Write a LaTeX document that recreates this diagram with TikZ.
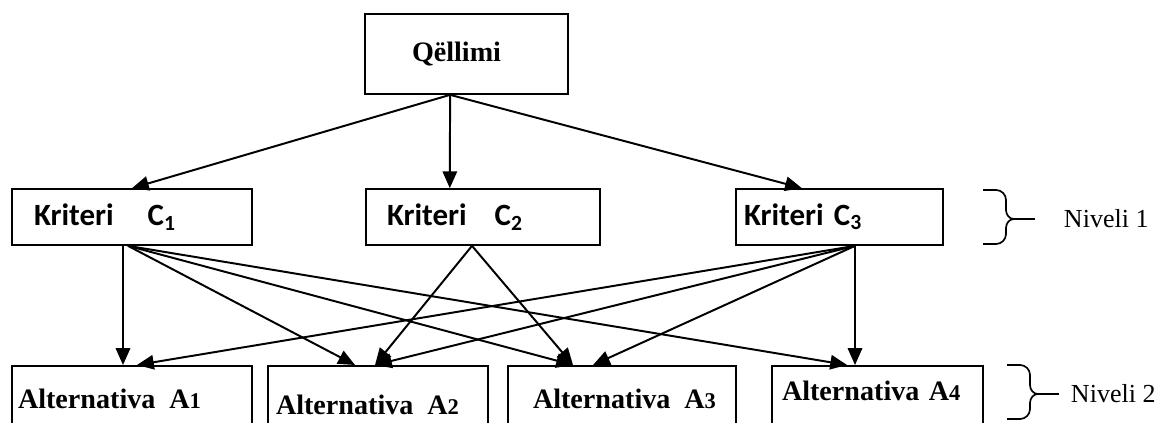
\documentclass[tikz,border=0pt]{standalone}
\usepackage{fontspec}
\setmainfont{Liberation Serif}
\newfontfamily\critfont{Carlito}
\usetikzlibrary{arrows.meta}
\newcommand{\altidx}[1]{{\fontsize{16pt}{16pt}\selectfont #1}}

\tikzset{goalbox/.style={draw,line width=1.2pt,minimum height=2cm,align=left
                        ,font=\fontsize{20pt}{20pt}\selectfont\bfseries}
        ,critbox/.style={draw,line width=1.2pt,minimum height=1.4cm,align=left
                        ,font=\critfont\fontsize{22pt}{22pt}\selectfont\bfseries}
        ,altbox/.style={draw,line width=1.2pt,anchor=north,align=left
                       ,text height=0pt,text depth=1.5cm
                       ,font=\fontsize{20pt}{20pt}\selectfont\bfseries}
        ,levelbrace/.style={line width=1.2pt}
        ,leveltext/.style={right,inner sep=0pt,font=\fontsize{18.5pt}{18.5pt}\selectfont}}

\begin{document}
\begin{tikzpicture}[>={Triangle[length=0.42cm,width=0.36cm]},line width=1.4pt]
\useasboundingbox (0,0) rectangle (29,10.55);
\node [goalbox,text width=2.725cm,inner xsep=1.175cm] (goal) at (11.6625,9.2) {Qëllimi};
\node [critbox,text width=4.9cm,inner xsep=0.55cm] (c1) at (3.3,5.125) {Kriteri\hspace{0.85cm}C\textsubscript{1}};
\node [critbox,text width=4.8cm,inner xsep=0.525cm] (c2) at (12.075,5.125) {Kriteri\hspace{0.7cm}C\textsubscript{2}};
\node [critbox,text width=4.775cm,inner xsep=0.2cm] (c3) at (20.9875,5.125) {Kriteri C\textsubscript{3}};
\node [altbox,text width=5.7cm,inner xsep=0.15cm,inner ysep=1.075cm] (a1) at (3.3,1.425) {Alternativa\hspace{0.35cm}A\altidx{1}};
\node [altbox,text width=5.1cm,inner xsep=0.2cm,inner ysep=1.225cm] (a2) at (9.45,1.425) {Alternativa\hspace{0.35cm}A\altidx{2}};
\node [altbox,text width=5.4cm,inner xsep=0.15cm,inner ysep=1.075cm] (a3) at (15.55,1.425) {\hspace*{0.475cm}Alternativa\hspace{0.35cm}A\altidx{3}};
\node [altbox,text width=4.775cm,inner xsep=0.25cm,inner ysep=0.875cm] (a4) at (21.9375,1.425) {Alternativa A\altidx{4}};

% goal to criteria
\draw [->] ([xshift=-0.41cm]goal.south) -- (c1.north);
\draw [->] ([xshift=-0.41cm]goal.south) -- ([xshift=-0.83cm]c2.north);
\draw [->] ([xshift=-0.41cm]goal.south) -- ([xshift=-0.94cm]c3.north);

% criteria to alternatives
\draw [->] ([xshift=-0.225cm]c1.south) -- ([xshift=-0.225cm]a1.north);
\draw [->] ([xshift=-0.1cm]c1.south) -- ([xshift=-0.575cm]a2.north);
\draw [->] ([xshift=-0.1cm]c1.south) -- ([xshift=-1.225cm]a3.north);
\draw [->] ([xshift=-0.1cm]c1.south) -- ([xshift=-0.76cm]a4.north);
\draw [->] ([xshift=-0.275cm]c2.south) -- ([xshift=-0.075cm]a2.north);
\draw [->] ([xshift=-0.275cm]c2.south) -- ([xshift=-1.225cm]a3.north);
\draw [->] ([xshift=0.3875cm]c3.south) -- ([xshift=0.125cm]a1.north);
\draw [->] ([xshift=0.3875cm]c3.south) -- ([xshift=-0.075cm]a2.north);
\draw [->] ([xshift=0.3875cm]c3.south) -- ([xshift=-0.725cm]a3.north);
\draw [->] ([xshift=0.3875cm]c3.south) -- ([xshift=-0.5625cm]a4.north);

% levels
\draw [levelbrace] (24.575,5.8) -- (24.9,5.8) to[out=0,in=90] (25.15,5.55) -- (25.15,5.3)
  to[out=-90,in=180] (25.35,5.075) to[out=180,in=90] (25.15,4.85) -- (25.15,4.7)
  to[out=-90,in=0] (24.9,4.45) -- (24.575,4.45);
\draw [levelbrace] (25.35,5.075) -- (25.875,5.075);
\node [leveltext] (lv1) at (26.575,5.075) {Niveli 1};
\draw [levelbrace] (25.175,1.425) -- (25.5,1.425) to[out=0,in=90] (25.75,1.175) -- (25.75,0.925)
  to[out=-90,in=180] (25.95,0.7) to[out=180,in=90] (25.75,0.475) -- (25.75,0.325)
  to[out=-90,in=0] (25.5,0.075) -- (25.175,0.075);
\draw [levelbrace] (25.95,0.7) -- (26.475,0.7);
\node [leveltext] (lv2) at (26.75,0.7) {Niveli 2};
\end{tikzpicture}
\end{document}
